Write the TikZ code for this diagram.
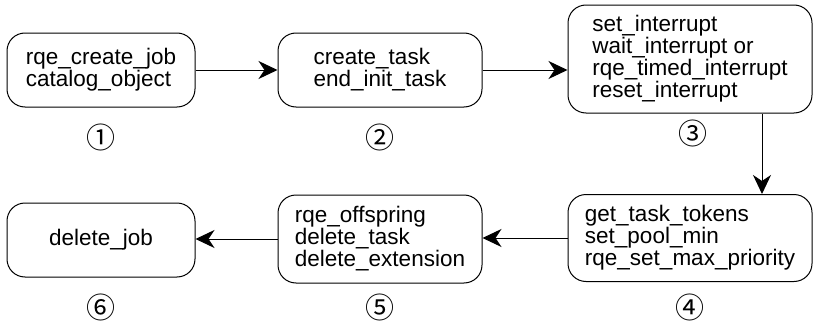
\documentclass[tikz,border=0pt]{standalone}
\usepackage{fontspec}
\setmainfont{Liberation Sans}
\newfontfamily\cjk{Noto Sans CJK SC}
\usetikzlibrary{arrows.meta}

\tikzset{
  call/.style={draw, line width=1pt, rounded corners=18pt, inner sep=0pt,
    align=left, font=\fontsize{22.5}{22}\selectfont},
  flow/.style={line width=1pt, -{Stealth[length=19pt, width=18pt, inset=6pt]}},
  stage/.style={font=\cjk\fontsize{29}{29}\selectfont}
}

\begin{document}
\begin{tikzpicture}[x=1pt, y=-1pt]

        \useasboundingbox (0,0) rectangle (815,324);

        % ---------- Top row ----------
        \node[call, minimum width=188pt, minimum height=74pt] (CreateJob) at (101,70)
          {rqe\_create\_job\\catalog\_object};
        \node[call, minimum width=204pt, minimum height=74pt] (CreateTask) at (380,70)
          {create\_task\\end\_init\_task};
        \node[call, minimum width=244pt, minimum height=108pt] (Interrupt) at (690,59)
          {set\_interrupt\\wait\_interrupt or\\rqe\_timed\_interrupt\\reset\_interrupt};

        % ---------- Bottom row ----------
        \node[call, minimum width=244pt, minimum height=87pt] (Tokens) at (690,238)
          {get\_task\_tokens\\set\_pool\_min\\rqe\_set\_max\_priority};
        \node[call, minimum width=204pt, minimum height=88pt] (DeleteTask) at (380,239)
          {rqe\_offspring\\delete\_task\\delete\_extension};
        \node[call, minimum width=188pt, minimum height=74pt] (DeleteJob) at (101,240)
          {delete\_job};

        % ---------- Stage numbers ----------
        \node[stage] (S1) at (101,137) {①};
        \node[stage] (S2) at (380,137) {②};
        \node[stage] (S3) at (693,133) {③};
        \node[stage] (S4) at (690,307) {④};
        \node[stage] (S5) at (380,307) {⑤};
        \node[stage] (S6) at (101,307) {⑥};

        % ---------- Arrows ----------
        \draw[flow] (CreateJob) -- (CreateTask);
        \draw[flow] (CreateTask.east) -- (CreateTask.east -| Interrupt.west);
        \draw[flow] ([xshift=72pt]Interrupt.south) -- ([xshift=72pt]Tokens.north);
        \draw[flow] (Tokens.west) -- (Tokens.west -| DeleteTask.east);
        \draw[flow] (DeleteTask.west) -- (DeleteTask.west -| DeleteJob.east);

\end{tikzpicture}
\end{document}
